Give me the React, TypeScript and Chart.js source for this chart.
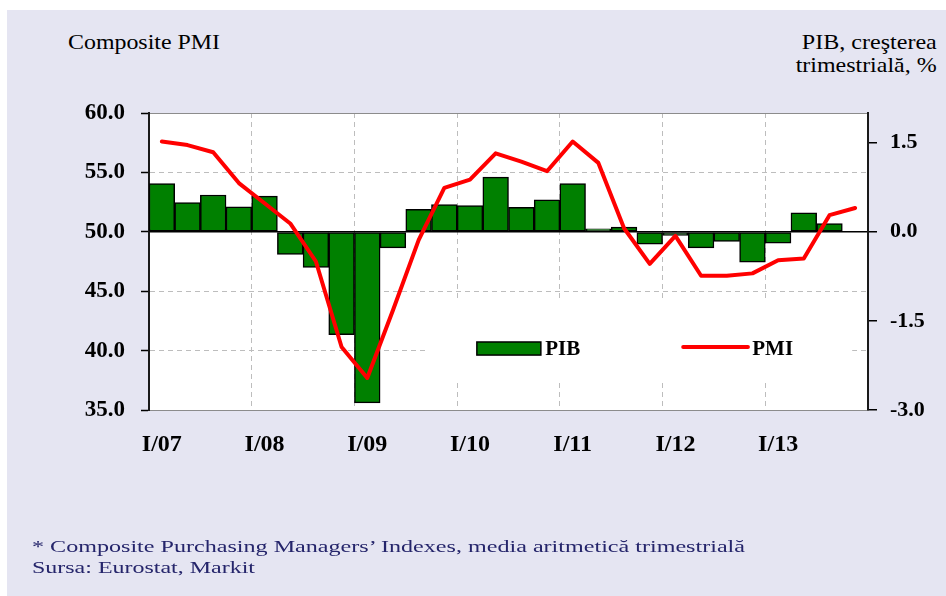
import React, { useEffect, useLayoutEffect, useRef } from 'react';
import { Chart, registerables } from 'chart.js';

Chart.register(...registerables);

// ---- data ----
const quarters = [
  'I/07', 'II/07', 'III/07', 'IV/07',
  'I/08', 'II/08', 'III/08', 'IV/08',
  'I/09', 'II/09', 'III/09', 'IV/09',
  'I/10', 'II/10', 'III/10', 'IV/10',
  'I/11', 'II/11', 'III/11', 'IV/11',
  'I/12', 'II/12', 'III/12', 'IV/12',
  'I/13', 'II/13', 'III/13', 'IV/13',
];

// PIB, quarterly growth, % (right axis)
const pibGrowth: (number | null)[] = [
  0.81, 0.49, 0.62, 0.42,
  0.60, -0.38, -0.60, -1.73,
  -2.88, -0.27, 0.38, 0.46,
  0.44, 0.92, 0.41, 0.54,
  0.81, 0.05, 0.08, -0.21,
  -0.06, -0.27, -0.16, -0.51,
  -0.19, 0.32, 0.14, null,
];

// Composite PMI, quarterly average (left axis)
const compositePmi = [
  57.6, 57.3, 56.7, 54.1,
  52.4, 50.7, 47.5, 40.3,
  37.7, 43.4, 49.3, 53.7,
  54.4, 56.6, 55.9, 55.1,
  57.6, 55.8, 50.3, 47.3,
  49.65, 46.3, 46.3, 46.5,
  47.6, 47.75, 51.4, 52.0,
];

const pmiTicks = [35, 40, 45, 50, 55, 60];
const pibTicks = [-3, -1.5, 0, 1.5];

const leftTitle = 'Composite PMI';
const rightTitle1 = 'PIB, creşterea';
const rightTitle2 = 'trimestrială, %';
const note1 = '* Composite Purchasing Managers\u2019 Indexes, media aritmetică trimestrială';
const note2 = 'Sursa: Eurostat, Markit';

const SERIF = "'Liberation Serif', 'Times New Roman', serif";

type StretchProps = {
  text: string;
  x: number;
  baseline: number;
  width: number;
  size: number;
  color?: string;
  align?: 'left' | 'right';
  weight?: string;
};

function StretchText({ text, x, baseline, width, size, color = '#000', align = 'left', weight = 'normal' }: StretchProps) {
  const ref = useRef<HTMLDivElement>(null);
  useLayoutEffect(() => {
    const fit = () => {
      const el = ref.current;
      if (!el) return;
      el.style.transform = 'none';
      const w = el.getBoundingClientRect().width;
      if (w > 0) el.style.transform = `scaleX(${width / w})`;
    };
    fit();
    const fonts = (document as any).fonts;
    if (fonts && fonts.ready) fonts.ready.then(fit);
  }, [text, width]);
  const top = baseline - size * 0.8375;
  const style: React.CSSProperties = {
    position: 'absolute',
    top,
    whiteSpace: 'nowrap',
    fontFamily: SERIF,
    fontSize: size,
    lineHeight: `${size}px`,
    color,
    fontWeight: weight as any,
    transformOrigin: align === 'left' ? 'left top' : 'right top',
  };
  if (align === 'left') style.left = x;
  else style.right = 946 - x;
  return (
    <div ref={ref} style={style}>
      {text}
    </div>
  );
}

const plotBgPlugin = {
  id: 'plotBg',
  beforeDraw(chart: any) {
    const { ctx, chartArea } = chart;
    ctx.save();
    ctx.fillStyle = '#FFFFFF';
    ctx.fillRect(chartArea.left, chartArea.top, chartArea.right - chartArea.left, chartArea.bottom - chartArea.top);
    ctx.restore();
  },
};

const inlineLegendPlugin = {
  id: 'inlineLegend',
  beforeDatasetsDraw(chart: any) {
    const { ctx, chartArea } = chart;
    const w = chartArea.right - chartArea.left;
    const h = chartArea.bottom - chartArea.top;
    ctx.save();
    ctx.fillStyle = '#FFFFFF';
    const x0 = chartArea.left + 0.388 * w;
    const x1 = chartArea.left + 0.978 * w;
    const y0 = chartArea.top + 0.63 * h;
    const y1 = chartArea.top + 0.906 * h;
    ctx.fillRect(x0, y0, x1 - x0, y1 - y0);
    ctx.restore();
  },
  afterDatasetsDraw(chart: any) {
    const { ctx, chartArea } = chart;
    const w = chartArea.right - chartArea.left;
    const h = chartArea.bottom - chartArea.top;
    const L = (f: number) => chartArea.left + f * w;
    const T = (f: number) => chartArea.top + f * h;
    const barDs = chart.data.datasets[1];
    const lineDs = chart.data.datasets[0];
    ctx.save();
    // bar swatch
    const sx0 = L(0.456), sx1 = L(0.545);
    const sy0 = T(0.771), sy1 = T(0.815);
    ctx.fillStyle = barDs.backgroundColor;
    ctx.fillRect(sx0, sy0, sx1 - sx0, sy1 - sy0);
    ctx.lineWidth = 1.5;
    ctx.strokeStyle = '#000';
    ctx.strokeRect(sx0, sy0, sx1 - sx0, sy1 - sy0);
    // line swatch
    ctx.beginPath();
    ctx.moveTo(L(0.743), T(0.788));
    ctx.lineTo(L(0.833), T(0.788));
    ctx.lineWidth = 4;
    ctx.strokeStyle = lineDs.borderColor;
    ctx.lineCap = 'round';
    ctx.stroke();
    // labels
    ctx.fillStyle = '#000';
    ctx.font = `bold 21px ${SERIF}`;
    ctx.textBaseline = 'alphabetic';
    ctx.textAlign = 'left';
    ctx.fillText(barDs.label, L(0.551), T(0.815));
    ctx.fillText(lineDs.label, L(0.839), T(0.815));
    ctx.restore();
  },
};

export default function App() {
  const canvasRef = useRef<HTMLCanvasElement>(null);

  useEffect(() => {
    const canvas = canvasRef.current;
    if (!canvas) return;
    const tickFont = { family: SERIF, weight: 'bold' as const };
    const chart = new Chart(canvas, {
      data: {
        labels: quarters,
        datasets: [
          {
            type: 'line',
            label: 'PMI',
            data: compositePmi,
            yAxisID: 'y',
            borderColor: '#FF0000',
            borderWidth: 4,
            pointRadius: 0,
            tension: 0,
            borderJoinStyle: 'round',
            borderCapStyle: 'round',
            order: 0,
          },
          {
            type: 'bar',
            label: 'PIB',
            data: pibGrowth,
            yAxisID: 'y1',
            backgroundColor: '#008000',
            borderColor: '#000000',
            borderWidth: 1.5,
            borderSkipped: false,
            barPercentage: 1,
            categoryPercentage: 1,
            order: 1,
          },
        ] as any,
      },
      options: {
        responsive: false,
        animation: false,
        devicePixelRatio: 1,
        layout: { padding: { top: 113, left: 0, right: 0, bottom: 0 } },
        plugins: {
          legend: { display: false },
          tooltip: { enabled: false },
          title: { display: false },
        },
        scales: {
          x: {
            offset: true,
            grid: {
              offset: true,
              drawTicks: false,
              lineWidth: 1,
              color: (c: any) =>
                c.index !== undefined && c.index > 0 && c.index % 4 === 0 ? '#BDBDBD' : 'rgba(0,0,0,0)',
            },
            border: { color: '#8C8C8C', width: 1, dash: [5, 4] },
            ticks: {
              autoSkip: false,
              maxRotation: 0,
              minRotation: 0,
              padding: 20,
              color: '#000',
              font: { ...tickFont, size: 24 },
              callback: (_v: any, i: number) => (i % 4 === 0 ? quarters[i] : ''),
            },
            afterFit: (s: any) => {
              s.height = 186;
            },
          },
          y: {
            position: 'left',
            min: 35,
            max: 60,
            afterBuildTicks: (s: any) => {
              s.ticks = pmiTicks.map((v) => ({ value: v }));
            },
            afterFit: (s: any) => {
              s.width = 149;
            },
            grid: {
              drawTicks: true,
              tickLength: 8,
              tickColor: '#000',
              tickWidth: 1.5,
              lineWidth: 1,
              color: (c: any) => {
                const v = c.tick ? c.tick.value : undefined;
                if (v === 60) return '#8C8C8C';
                if (v === 55 || v === 45 || v === 40) return '#BDBDBD';
                return 'rgba(0,0,0,0)';
              },
            },
            border: {
              color: '#1A1A1A',
              width: 2,
              dash: (c: any) => (c.tick && c.tick.value === 60 ? [] : [5, 4]),
            },
            ticks: {
              padding: 16,
              color: '#000',
              font: { ...tickFont, size: 23 },
              callback: (v: any) => Number(v).toFixed(1),
            },
          },
          y1: {
            position: 'right',
            min: -3,
            max: 2,
            afterBuildTicks: (s: any) => {
              s.ticks = pibTicks.map((v) => ({ value: v }));
            },
            afterFit: (s: any) => {
              s.width = 78;
            },
            grid: {
              drawTicks: true,
              tickLength: 9,
              tickColor: '#000',
              tickWidth: 1.5,
              lineWidth: 1.5,
              color: (c: any) => (c.tick && c.tick.value === 0 ? '#000' : 'rgba(0,0,0,0)'),
            },
            border: { color: '#1A1A1A', width: 2 },
            ticks: {
              padding: 13,
              color: '#000',
              font: { ...tickFont, size: 22 },
              callback: (v: any) => Number(v).toFixed(1),
            },
          },
        },
      } as any,
      plugins: [plotBgPlugin, inlineLegendPlugin],
    });
    return () => chart.destroy();
  }, []);

  return (
    <div style={{ position: 'absolute', left: 0, top: 0, width: 946, height: 596, overflow: 'hidden', background: '#FFFFFF' }}>
      <div style={{ position: 'absolute', left: 7, top: 10, width: 939, height: 586, background: '#E5E5F2' }} />
      <StretchText text={leftTitle} x={68} baseline={50} width={152} size={21} />
      <StretchText text={rightTitle1} x={937} baseline={50} width={135} size={21} align="right" />
      <StretchText text={rightTitle2} x={937} baseline={73} width={141} size={21} align="right" />
      <canvas ref={canvasRef} width={946} height={596} style={{ position: 'absolute', left: 0, top: 0 }} />
      <StretchText text={note1} x={32} baseline={552} width={713} size={17} color="#25256B" />
      <StretchText text={note2} x={32} baseline={573} width={223} size={17} color="#25256B" />
    </div>
  );
}
